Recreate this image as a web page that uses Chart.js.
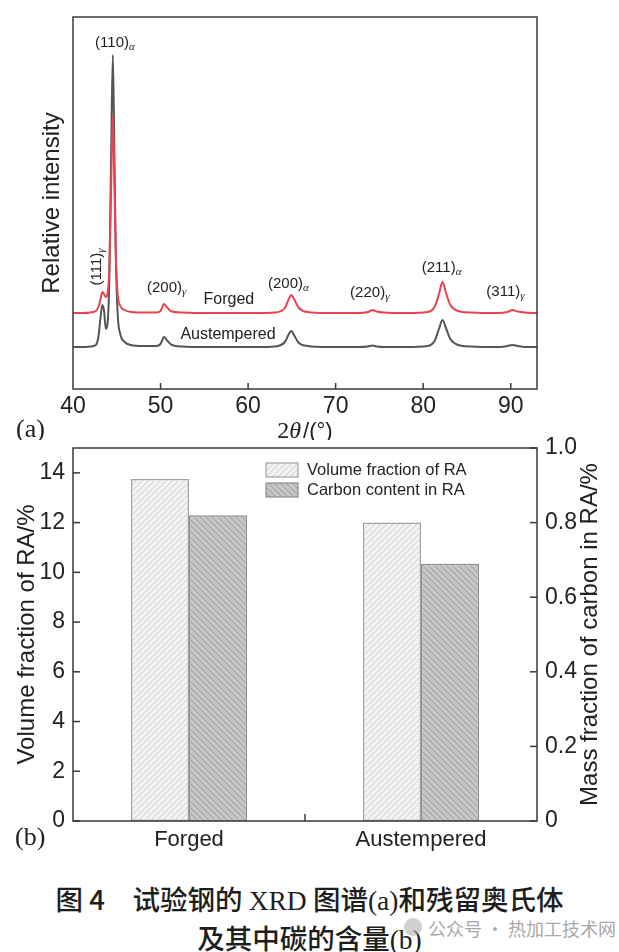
<!DOCTYPE html>
<html>
<head>
<meta charset="utf-8">
<script src="https://cdn.jsdelivr.net/npm/chart.js@4.4.1/dist/chart.umd.min.js"></script>
<style>
    html, body { margin: 0; padding: 0; background: #fff; }
    body { width: 619px; height: 952px; position: relative; overflow: hidden; }
    #xrdWrap { position: absolute; left: 0; top: 0; width: 619px; height: 440px; }
    #raWrap { position: absolute; left: 0; top: 425px; width: 619px; height: 435px; }
    #caption { position: absolute; left: 0; top: 880px; width: 619px; text-align: center;
        font-family: "Noto Sans CJK SC", sans-serif; font-weight: 500; font-size: 27.5px; line-height: 36px; color: #1e1e1e; }
    #caption .lat { font-family: "Liberation Serif", "DejaVu Serif", serif; font-weight: 400; }
    #mark { position: absolute; left: 428px; top: 915px; font-family: "Noto Sans CJK SC", sans-serif;
        font-size: 18px; color: #a9a9a9; white-space: nowrap; }
    #markIcon { position: absolute; left: 404px; top: 918px; width: 18px; height: 18px; border-radius: 50%;
        background: rgba(170, 170, 170, 0.55); }
</style>
</head>
<body>
<div id="xrdWrap"><canvas id="xrdChart"></canvas></div>
<div id="raWrap"><canvas id="raChart"></canvas></div>
<div id="caption">
    <div>图 4　试验钢的 <span class="lat">XRD</span> 图谱<span class="lat">(a)</span>和残留奥氏体</div>
    <div>及其中碳的含量<span class="lat">(b)</span></div>
</div>
<div id="markIcon"></div>
<div id="mark">公众号 · 热加工技术网</div>
<script>
const SANS = '"Liberation Sans", Arial, Helvetica, sans-serif';
const SERIF = '"Liberation Serif", "Times New Roman", serif';

// ========================
// (a) XRD patterns
// ========================
const twoTheta = [40.0, 41.0, 42.0, 42.6, 42.9, 43.15, 43.35, 43.55, 43.75, 43.95, 44.15, 44.35, 44.55, 44.72, 44.9,
    45.1, 45.4, 45.9, 46.6, 48.0, 49.5, 50.0, 50.4, 50.8, 51.3, 52.5, 55.0, 58.0, 61.0, 63.0, 64.2, 64.6, 64.93,
    65.3, 65.8, 66.8, 69.0, 72.5, 73.7, 74.2, 74.7, 75.5, 78.0, 80.5, 81.3, 81.8, 82.2, 82.6, 83.1, 84.0, 85.5,
    88.5, 89.6, 90.2, 90.8, 91.6, 93.0];
const forgedIntensity = [76, 76, 76.5, 78, 82, 90, 97, 95, 92, 96, 120, 200, 274, 210, 130,
    95, 83, 79, 77, 76.5, 76.5, 78, 85, 81, 77.5, 76.5, 76, 76, 76, 76.5, 81, 89, 94,
    89, 81, 77, 76, 76, 77, 79, 77.5, 76.5, 76, 77, 82, 95, 107, 96, 84, 78, 76.5,
    76, 77, 79, 77.5, 76.5, 76];
const austemperedIntensity = [42, 42, 42.5, 44, 52, 72, 84, 78, 60, 66, 110, 230, 334, 240, 130,
    75, 55, 47, 44, 43, 43, 45, 52, 48, 44, 42.5, 42, 42, 42, 42.5, 47, 54, 58,
    53, 46, 43, 42, 42, 42.5, 43.5, 42.5, 42, 42, 43, 48, 60, 69, 61, 50, 44, 42.5,
    42, 43, 44, 43, 42, 42];
const xrdTicks = [40, 50, 60, 70, 80, 90];
const peakNames = ['(110)', '(111)', '(200)', '(200)', '(220)', '(211)', '(311)'];
const peakPhases = ['α', 'γ', 'γ', 'α', 'γ', 'α', 'γ'];

// ========================
// (b) retained austenite
// ========================
const samples = ['Forged', 'Austempered'];
const volumeFraction = [13.75, 12.0];
const carbonContent = [0.82, 0.69];
const volumeTicks = [0, 2, 4, 6, 8, 10, 12, 14];
const carbonTicks = [0, 0.2, 0.4, 0.6, 0.8, 1.0];
const carbonTickLabels = ['0', '0.2', '0.4', '0.6', '0.8', '1.0'];

// label anchors in data units (2θ, intensity)
const peakLabelPos = [[44.79, 346], [42.74, 122], [50.7, 101], [64.6, 105], [73.9, 96], [82.1, 121], [89.4, 97]];

function drawIndex(ctx, hkl, phase, cx, cy, rotate) {
    const main = `15px ${SANS}`;
    const sub = `italic 11px ${SERIF}`;
    ctx.save();
    ctx.translate(cx, cy);
    if (rotate) ctx.rotate(-Math.PI / 2);
    ctx.font = main;
    const w1 = ctx.measureText(hkl).width;
    ctx.font = sub;
    const w2 = ctx.measureText(phase).width;
    const x0 = -(w1 + w2) / 2;
    ctx.textAlign = 'left';
    ctx.textBaseline = 'middle';
    ctx.fillStyle = '#222';
    ctx.font = main;
    ctx.fillText(hkl, x0, 0);
    ctx.font = sub;
    ctx.fillText(phase, x0 + w1, 4);
    ctx.restore();
}

const xrdDecor = {
    id: 'xrdDecor',
    afterDatasetsDraw(chart) {
        const { ctx, chartArea: a, scales: { x, y } } = chart;
        ctx.save();
        ctx.strokeStyle = '#3a3a3a';
        ctx.lineWidth = 1.5;
        ctx.strokeRect(a.left, a.top, a.right - a.left, a.bottom - a.top);
        x.ticks.forEach(t => {
            const px = x.getPixelForValue(t.value);
            if (px <= a.left + 1) return;
            ctx.beginPath();
            ctx.moveTo(px, a.bottom);
            ctx.lineTo(px, a.bottom - 6);
            ctx.stroke();
        });

        peakNames.forEach((name, i) => {
            const [t, v] = peakLabelPos[i];
            drawIndex(ctx, name, peakPhases[i], x.getPixelForValue(t), y.getPixelForValue(v), i === 1);
        });

        ctx.fillStyle = '#222';
        ctx.textAlign = 'center';
        ctx.textBaseline = 'middle';
        ctx.font = `16px ${SANS}`;
        ctx.fillText('Forged', x.getPixelForValue(57.8), y.getPixelForValue(89));
        ctx.fillText('Austempered', x.getPixelForValue(57.7), y.getPixelForValue(54));

        // 2θ/(°)
        const parts = [['2', `24px ${SERIF}`], ['θ', `italic 24px ${SERIF}`], ['/(°)', `22px ${SANS}`]];
        let total = 0;
        parts.forEach(p => { ctx.font = p[1]; total += ctx.measureText(p[0]).width + (p[0] === 'θ' ? 2 : 0); });
        let cx = (a.left + a.right) / 2 - total / 2;
        ctx.textAlign = 'left';
        parts.forEach(p => {
            ctx.font = p[1];
            ctx.fillText(p[0], cx, 432);
            cx += ctx.measureText(p[0]).width + (p[0] === 'θ' ? 2 : 0);
        });

        ctx.font = `26px ${SERIF}`;
        ctx.fillText('(a)', 16, 430);
        ctx.restore();
    }
};

new Chart(document.getElementById('xrdChart'), {
    type: 'line',
    data: {
        datasets: [
            {
                label: 'Forged',
                data: twoTheta.map((t, i) => ({ x: t, y: forgedIntensity[i] })),
                borderColor: '#e8434f', borderWidth: 2, pointRadius: 0,
                cubicInterpolationMode: 'monotone', fill: false
            },
            {
                label: 'Austempered',
                data: twoTheta.map((t, i) => ({ x: t, y: austemperedIntensity[i] })),
                borderColor: '#555555', borderWidth: 2, pointRadius: 0,
                cubicInterpolationMode: 'monotone', fill: false
            }
        ]
    },
    options: {
        responsive: true, maintainAspectRatio: false, animation: false,
        layout: { padding: { left: 0, top: 17, right: 82, bottom: 0 } },
        plugins: { legend: { display: false }, tooltip: { enabled: false } },
        scales: {
            x: {
                type: 'linear', min: 40, max: 93,
                afterBuildTicks: s => { s.ticks = xrdTicks.map(v => ({ value: v })); },
                afterFit: s => { s.height = 51; },
                grid: { display: false, drawTicks: false }, border: { display: false },
                ticks: { padding: 4, color: '#222', font: { size: 23, family: SANS } }
            },
            y: {
                min: 0, max: 372,
                afterFit: s => { s.width = 73; },
                grid: { display: false, drawTicks: false }, border: { display: false },
                ticks: { display: false },
                title: { display: true, text: 'Relative intensity', color: '#222',
                    font: { size: 24, family: SANS }, padding: { top: 37.6, bottom: 0 } }
            }
        }
    },
    plugins: [xrdDecor]
});

// ========================
// (b) bars with hatching
// ========================
function hatch(bg, line, dir) {
    const s = 6;
    const c = document.createElement('canvas');
    c.width = s; c.height = s;
    const g = c.getContext('2d');
    g.fillStyle = bg;
    g.fillRect(0, 0, s, s);
    g.strokeStyle = line;
    g.lineWidth = 1;
    g.beginPath();
    if (dir > 0) {
        g.moveTo(0, s); g.lineTo(s, 0);
        g.moveTo(-1, 1); g.lineTo(1, -1);
        g.moveTo(s - 1, s + 1); g.lineTo(s + 1, s - 1);
    } else {
        g.moveTo(0, 0); g.lineTo(s, s);
        g.moveTo(s - 1, -1); g.lineTo(s + 1, 1);
        g.moveTo(-1, s - 1); g.lineTo(1, s + 1);
    }
    g.stroke();
    return g.createPattern(c, 'repeat');
}

const volumeFill = hatch('#f2f2f2', '#cfcfcf', 1);
const carbonFill = hatch('#c6c6c6', '#9a9a9a', -1);

const raDecor = {
    id: 'raDecor',
    afterDatasetsDraw(chart) {
        const { ctx, chartArea: a, scales: { x, y, y1 } } = chart;
        ctx.save();
        ctx.strokeStyle = '#3a3a3a';
        ctx.lineWidth = 1.5;
        ctx.strokeRect(a.left, a.top, a.right - a.left, a.bottom - a.top);
        y.ticks.forEach(t => {
            const py = y.getPixelForValue(t.value);
            ctx.beginPath(); ctx.moveTo(a.left, py); ctx.lineTo(a.left + 7, py); ctx.stroke();
        });
        y1.ticks.forEach(t => {
            const py = y1.getPixelForValue(t.value);
            ctx.beginPath(); ctx.moveTo(a.right, py); ctx.lineTo(a.right - 7, py); ctx.stroke();
        });
        const mid = (x.getPixelForValue(0) + x.getPixelForValue(1)) / 2;
        ctx.beginPath(); ctx.moveTo(mid, a.bottom); ctx.lineTo(mid, a.bottom - 7); ctx.stroke();

        // legend
        chart.data.datasets.forEach((ds, i) => {
            const top = [463, 483][i] - 425;
            ctx.fillStyle = ds.backgroundColor;
            ctx.fillRect(266, top, 32, 14);
            ctx.lineWidth = 1.2;
            ctx.strokeStyle = ds.borderColor;
            ctx.strokeRect(266, top, 32, 14);
            ctx.fillStyle = '#222';
            ctx.font = `16.5px ${SANS}`;
            ctx.textAlign = 'left';
            ctx.textBaseline = 'middle';
            ctx.fillText(ds.label, 307, top + 7.5);
        });

        // right axis title, reading bottom to top
        ctx.save();
        ctx.translate(590, (a.top + a.bottom) / 2);
        ctx.rotate(-Math.PI / 2);
        ctx.fillStyle = '#222';
        ctx.font = `24px ${SANS}`;
        ctx.textAlign = 'center';
        ctx.textBaseline = 'middle';
        ctx.fillText('Mass fraction of carbon in RA/%', 0, 0);
        ctx.restore();

        ctx.fillStyle = '#222';
        ctx.font = `26px ${SERIF}`;
        ctx.textAlign = 'left';
        ctx.textBaseline = 'middle';
        ctx.fillText('(b)', 15, 413);
        ctx.restore();
    }
};

new Chart(document.getElementById('raChart'), {
    type: 'bar',
    data: {
        labels: samples,
        datasets: [
            { label: 'Volume fraction of RA', data: volumeFraction, yAxisID: 'y',
              backgroundColor: volumeFill, borderColor: '#a2a2a2', borderWidth: 1.5, borderSkipped: false,
              categoryPercentage: 0.5, barPercentage: 1.0 },
            { label: 'Carbon content in RA', data: carbonContent, yAxisID: 'y1',
              backgroundColor: carbonFill, borderColor: '#8c8c8c', borderWidth: 1.5, borderSkipped: false,
              categoryPercentage: 0.5, barPercentage: 1.0 }
        ]
    },
    options: {
        responsive: true, maintainAspectRatio: false, animation: false,
        layout: { padding: { left: 0, top: 23, right: 0, bottom: 0 } },
        plugins: { legend: { display: false }, tooltip: { enabled: false } },
        scales: {
            x: {
                afterFit: s => { s.height = 39; },
                grid: { display: false, drawTicks: false }, border: { display: false },
                ticks: { padding: 6, color: '#222', font: { size: 22, family: SANS } }
            },
            y: {
                position: 'left', min: 0, max: 15,
                afterBuildTicks: s => { s.ticks = volumeTicks.map(v => ({ value: v })); },
                afterFit: s => { s.width = 73; },
                grid: { display: false, drawTicks: false }, border: { display: false },
                ticks: { padding: 8, color: '#222', font: { size: 23, family: SANS } },
                title: { display: true, text: 'Volume fraction of RA/%', color: '#222',
                    font: { size: 24, family: SANS }, padding: { top: 12.6, bottom: 0 } }
            },
            y1: {
                position: 'right', min: 0, max: 1,
                afterBuildTicks: s => { s.ticks = carbonTicks.map(v => ({ value: v })); },
                afterFit: s => { s.width = 82; },
                grid: { display: false, drawTicks: false }, border: { display: false },
                ticks: { padding: 8, color: '#222', font: { size: 23, family: SANS },
                    callback: (v, i) => carbonTickLabels[i] }
            }
        }
    },
    plugins: [raDecor]
});
</script>
</body>
</html>
